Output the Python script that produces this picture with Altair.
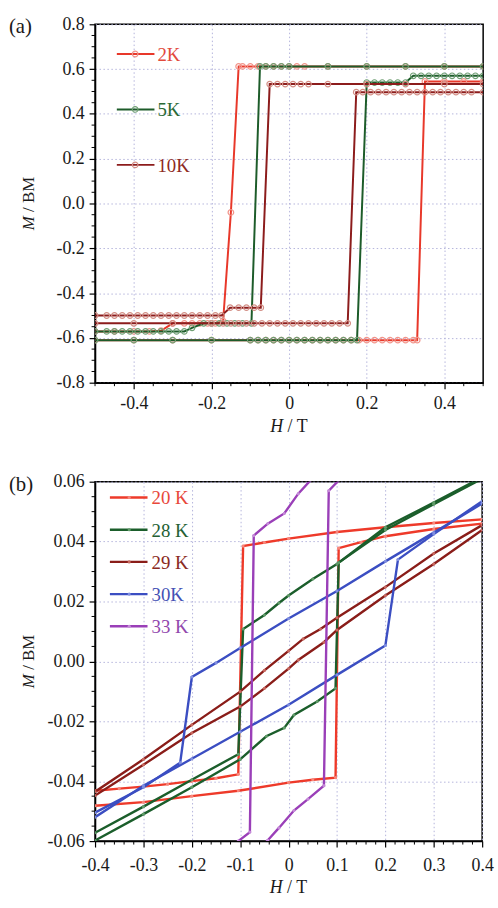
import altair as alt
import pandas as pd

FONT = "Liberation Serif"

# ---------------- panel (a) data ----------------
a_names = ["2K", "5K", "10K"]
a_line_colors = ["#e8382a", "#1d5c2a", "#8c1c1c"]
a_marker_colors = ["#f2948a", "#6f9f73", "#d38f86"]
a_text_colors = ["#e24a3c", "#2a6a35", "#8e2a22"]

H_2K_down = [0.5, 0.4, 0.3, 0.2, 0.1, 0.04, 0.02, 0.0, -0.02, -0.04, -0.06, -0.08, -0.10, -0.12, -0.13,
             -0.15, -0.17, -0.19, -0.21, -0.23, -0.25, -0.27, -0.30, -0.33, -0.36, -0.40, -0.45, -0.50]
M_2K_down = [0.612, 0.612, 0.612, 0.612, 0.612, 0.612, 0.612, 0.612, 0.612, 0.612, 0.612, 0.612, 0.612, 0.612, 0.612,
             -0.04, -0.525, -0.535, -0.535, -0.535, -0.535, -0.535, -0.535, -0.568, -0.571, -0.571, -0.571, -0.571]
H_2K_up = [-0.50, -0.40, -0.30, -0.20, -0.10, -0.08, -0.06, -0.04, -0.02, 0.0, 0.02, 0.04, 0.06, 0.08, 0.10,
           0.12, 0.14, 0.16, 0.18, 0.20, 0.22, 0.24, 0.26, 0.28, 0.30, 0.32, 0.33, 0.35, 0.40, 0.45, 0.50]
M_2K_up = [-0.61, -0.61, -0.61, -0.61, -0.61, -0.61, -0.61, -0.61, -0.61, -0.61, -0.61, -0.61, -0.61, -0.61, -0.61,
           -0.61, -0.61, -0.61, -0.61, -0.61, -0.61, -0.61, -0.61, -0.61, -0.61, -0.61, -0.61, 0.545, 0.545, 0.545, 0.545]

H_5K_down = [0.5, 0.4, 0.3, 0.2, 0.1, 0.0, -0.02, -0.04, -0.06, -0.075, -0.097, -0.12, -0.14, -0.16, -0.18,
             -0.20, -0.22, -0.25, -0.27, -0.29, -0.31, -0.33, -0.35, -0.37, -0.39, -0.41, -0.43, -0.45, -0.47, -0.50]
M_5K_down = [0.612, 0.612, 0.612, 0.612, 0.612, 0.612, 0.612, 0.612, 0.612, 0.612, -0.535, -0.535, -0.535, -0.535, -0.535,
             -0.535, -0.535, -0.555, -0.571, -0.571, -0.571, -0.571, -0.571, -0.571, -0.571, -0.571, -0.571, -0.571, -0.571, -0.571]
H_5K_up = [-0.50, -0.40, -0.30, -0.20, -0.10, -0.08, -0.06, -0.04, -0.02, 0.0, 0.02, 0.04, 0.06, 0.08, 0.10, 0.12, 0.14,
           0.16, 0.175, 0.20, 0.22, 0.24, 0.26, 0.28, 0.30, 0.32, 0.34, 0.36, 0.38, 0.40, 0.42, 0.44, 0.46, 0.48, 0.50]
M_5K_up = [-0.61, -0.61, -0.61, -0.61, -0.61, -0.61, -0.61, -0.61, -0.61, -0.61, -0.61, -0.61, -0.61, -0.61, -0.61, -0.61, -0.61,
           -0.61, -0.61, 0.54, 0.54, 0.54, 0.54, 0.54, 0.54, 0.57, 0.57, 0.57, 0.57, 0.57, 0.57, 0.57, 0.57, 0.57, 0.57]

H_10K_down = [0.5, 0.4, 0.3, 0.2, 0.1, 0.05, 0.03, 0.01, -0.01, -0.03, -0.05, -0.073, -0.09, -0.11, -0.13, -0.152,
              -0.174, -0.19, -0.21, -0.23, -0.25, -0.27, -0.29, -0.31, -0.33, -0.35, -0.37, -0.39, -0.41, -0.43, -0.45, -0.47, -0.50]
M_10K_down = [0.533, 0.533, 0.533, 0.533, 0.533, 0.533, 0.533, 0.533, 0.533, 0.533, 0.533, -0.465, -0.465, -0.465, -0.465, -0.465,
              -0.50, -0.50, -0.50, -0.50, -0.50, -0.50, -0.50, -0.50, -0.50, -0.50, -0.50, -0.50, -0.50, -0.50, -0.50, -0.50, -0.50]
H_10K_up = [-0.50, -0.40, -0.30, -0.20, -0.17, -0.15, -0.13, -0.11, -0.09, -0.07, -0.05, -0.03, -0.01, 0.01, 0.03, 0.05, 0.07,
            0.09, 0.11, 0.13, 0.151, 0.173, 0.19, 0.21, 0.23, 0.25, 0.27, 0.29, 0.31, 0.33, 0.35, 0.37, 0.39, 0.41, 0.43, 0.45, 0.47, 0.50]
M_10K_up = [-0.535, -0.535, -0.535, -0.535, -0.535, -0.535, -0.535, -0.535, -0.535, -0.535, -0.535, -0.535, -0.535, -0.535, -0.535,
            -0.535, -0.535, -0.535, -0.535, -0.535, -0.535, 0.497, 0.497, 0.497, 0.497, 0.497, 0.497, 0.497, 0.497, 0.497, 0.497,
            0.497, 0.497, 0.497, 0.497, 0.497, 0.497, 0.497]

a_xticks = [-0.4, -0.2, 0.0, 0.2, 0.4]
a_yticks = [-0.8, -0.6, -0.4, -0.2, 0.0, 0.2, 0.4, 0.6, 0.8]
a_xminor = [-0.5, -0.45, -0.35, -0.3, -0.25, -0.15, -0.1, -0.05, 0.05, 0.1, 0.15, 0.25, 0.3, 0.35, 0.45, 0.5]
a_yminor = [-0.75, -0.7, -0.65, -0.55, -0.5, -0.45, -0.35, -0.3, -0.25, -0.15, -0.1, -0.05,
            0.05, 0.1, 0.15, 0.25, 0.3, 0.35, 0.45, 0.5, 0.55, 0.65, 0.7, 0.75]

# ---------------- panel (b) data ----------------
b_names = ["20 K", "28 K", "29 K", "30K", "33 K"]
b_line_colors = ["#ee3a2a", "#1b5e2b", "#8a1d19", "#3b4ec2", "#9a3fb8"]
b_marker_colors = ["#f7877c", "#5f9a68", "#c8685f", "#7f8ee0", "#c58ad8"]
b_text_colors = ["#e8473a", "#245f33", "#8a2a22", "#4451b4", "#9147ad"]

H_20K_down = [0.4, 0.3, 0.2, 0.1, 0.0, -0.05, -0.094, -0.104, -0.15, -0.2, -0.25, -0.3, -0.35, -0.4]
M_20K_down = [0.0474, 0.0462, 0.0448, 0.0432, 0.041, 0.0397, 0.0385, -0.0377, -0.039, -0.040, -0.041, -0.0418, -0.0425, -0.0432]
H_20K_up = [-0.4, -0.3, -0.2, -0.104, 0.0, 0.05, 0.097, 0.1035, 0.15, 0.2, 0.3, 0.4]
M_20K_up = [-0.0482, -0.047, -0.045, -0.0432, -0.0405, -0.0395, -0.0388, 0.0378, 0.0398, 0.0418, 0.0442, 0.046]

H_28K_down = [0.4, 0.3, 0.2, 0.1, 0.05, 0.0, -0.02, -0.05, -0.094, -0.104, -0.2, -0.3, -0.4]
M_28K_down = [0.0615, 0.053, 0.0448, 0.0325, 0.0275, 0.022, 0.0195, 0.0155, 0.0108, -0.031, -0.0395, -0.0485, -0.0572]
H_28K_up = [-0.4, -0.3, -0.2, -0.1, -0.046, -0.009, 0.011, 0.059, 0.097, 0.1035, 0.2, 0.3, 0.4]
M_28K_up = [-0.0598, -0.051, -0.042, -0.0327, -0.025, -0.0222, -0.0179, -0.0134, -0.009, 0.033, 0.0439, 0.0525, 0.061]

H_29K_down = [0.4, 0.3, 0.2, 0.1, 0.066, 0.03, 0.0, -0.05, -0.1, -0.2, -0.3, -0.4]
M_29K_down = [0.0455, 0.036, 0.0248, 0.0146, 0.0108, 0.0075, 0.0035, -0.003, -0.0101, -0.0212, -0.0327, -0.0435]
H_29K_up = [-0.4, -0.3, -0.2, -0.1, -0.05, 0.0, 0.02, 0.073, 0.1, 0.2, 0.3, 0.4]
M_29K_up = [-0.0448, -0.0345, -0.0239, -0.0151, -0.009, -0.0024, 0.0005, 0.0064, 0.0105, 0.022, 0.0325, 0.0439]

H_30K_down = [0.4, 0.3, 0.2, 0.1, 0.0, -0.1, -0.15, -0.2, -0.224, -0.3, -0.4]
M_30K_down = [0.0527, 0.043, 0.0334, 0.0235, 0.0143, 0.0045, -0.0005, -0.0052, -0.0338, -0.042, -0.0505]
H_30K_up = [-0.4, -0.3, -0.2, -0.1, 0.0, 0.1, 0.2, 0.226, 0.3, 0.4]
M_30K_up = [-0.052, -0.0415, -0.0325, -0.0235, -0.0145, -0.0045, 0.0053, 0.034, 0.0425, 0.0535]

H_33K_down = [0.07, 0.045, 0.02, -0.009, -0.043, -0.072, -0.08, -0.104, -0.13]
M_33K_down = [0.066, 0.0604, 0.056, 0.0494, 0.046, 0.042, -0.057, -0.06, -0.064]
H_33K_up = [-0.07, -0.043, -0.02, 0.011, 0.04, 0.073, 0.083, 0.1035, 0.12]
M_33K_up = [-0.064, -0.0597, -0.0556, -0.0498, -0.046, -0.0415, 0.057, 0.0604, 0.064]

b_xticks = [-0.4, -0.3, -0.2, -0.1, 0.0, 0.1, 0.2, 0.3, 0.4]
b_yticks = [-0.06, -0.04, -0.02, 0.0, 0.02, 0.04, 0.06]
b_xminor = [-0.38, -0.36, -0.34, -0.32, -0.28, -0.26, -0.24, -0.22, -0.18, -0.16, -0.14, -0.12,
            -0.08, -0.06, -0.04, -0.02, 0.02, 0.04, 0.06, 0.08, 0.12, 0.14, 0.16, 0.18,
            0.22, 0.24, 0.26, 0.28, 0.32, 0.34, 0.36, 0.38]
b_yminor = [-0.055, -0.05, -0.045, -0.035, -0.03, -0.025, -0.015, -0.01, -0.005,
            0.005, 0.01, 0.015, 0.025, 0.03, 0.035, 0.045, 0.05, 0.055]

panel_labels = ["(a)", "(b)"]
y_title = ["M", "/ BM"]
x_title = ["H", "/ T"]


def build(branches):
    rows = []
    for series, branch, hs, ms in branches:
        assert len(hs) == len(ms), (series, branch)
        for i, (h, m) in enumerate(zip(hs, ms)):
            rows.append({"series": series, "path": series + branch, "H": h, "M": m, "i": i})
    return pd.DataFrame(rows)


df_a = build([
    ("2K", "d", H_2K_down, M_2K_down), ("2K", "u", H_2K_up, M_2K_up),
    ("5K", "d", H_5K_down, M_5K_down), ("5K", "u", H_5K_up, M_5K_up),
    ("10K", "d", H_10K_down, M_10K_down), ("10K", "u", H_10K_up, M_10K_up),
])
df_b = build([
    ("20 K", "d", H_20K_down, M_20K_down), ("20 K", "u", H_20K_up, M_20K_up),
    ("28 K", "d", H_28K_down, M_28K_down), ("28 K", "u", H_28K_up, M_28K_up),
    ("29 K", "d", H_29K_down, M_29K_down), ("29 K", "u", H_29K_up, M_29K_up),
    ("30K", "d", H_30K_down, M_30K_down), ("30K", "u", H_30K_up, M_30K_up),
    ("33 K", "d", H_33K_down, M_33K_down), ("33 K", "u", H_33K_up, M_33K_up),
])

MINUS = "\u2212"


def make_axis(ticks, fmt, zero_plain, pad):
    base = "replace(datum.label, '%s', '-')" % MINUS
    expr = ("datum.value == 0 ? '0' : " + base) if zero_plain else base
    return alt.Axis(values=ticks, format=fmt, labelExpr=expr, title=None,
                    labelFont=FONT, labelFontSize=18, labelColor="#1a1a1a",
                    labelFlush=False, labelOverlap=False, labelBound=False,
                    tickSize=6, tickColor="black", tickWidth=1.2,
                    domainColor="black", domainWidth=1.5, labelPadding=pad,
                    grid=True, gridColor="#b4b4dc", gridDash=[1.5, 2.5], gridWidth=1)


def panel(df, names, line_colors, marker_colors, text_colors, xdom, ydom, xticks, yticks,
          xminor, yminor, xfmt, yfmt, W, Hh, leg, label, lw, psize, filled, xpad, xtitle_dy):
    xsc = alt.Scale(domain=xdom, nice=False, zero=False)
    ysc = alt.Scale(domain=ydom, nice=False, zero=False)
    xax = make_axis(xticks, xfmt, True, xpad)
    yax = make_axis(yticks, yfmt, False, 5)
    X = lambda f: alt.X(f, scale=xsc, axis=xax)
    Y = lambda f: alt.Y(f, scale=ysc, axis=yax)
    layers = []
    for name, lc, mc in zip(names, line_colors, marker_colors):
        base = alt.Chart(df).transform_filter(alt.datum.series == name)
        line = base.mark_line(color=lc, strokeWidth=lw, clip=True).encode(
            x=X("H:Q"), y=Y("M:Q"), detail="path:N", order="i:Q")
        pts = base.mark_point(shape="circle", filled=filled, color=mc, size=psize, strokeWidth=1.2,
                              opacity=1, clip=True).encode(x=X("H:Q"), y=Y("M:Q"))
        layers += [line, pts]
    # minor ticks
    layers.append(alt.Chart(pd.DataFrame({"v": yminor})).mark_rule(color="black", strokeWidth=1).encode(
        y=Y("v:Q"), x=alt.value(0), x2=alt.value(-3.5)))
    layers.append(alt.Chart(pd.DataFrame({"v": xminor})).mark_rule(color="black", strokeWidth=1).encode(
        x=X("v:Q"), y=alt.value(Hh), y2=alt.value(Hh + 3.5)))
    # legend
    lx0, lx1, lxm, ltx, ly0, ldy, lfs = leg
    for k, (name, lc, mc, tc) in enumerate(zip(names, line_colors, marker_colors, text_colors)):
        ly = ly0 + k * ldy
        ldf = pd.DataFrame({"label": [name]})
        layers.append(alt.Chart(ldf).mark_rule(color=lc, strokeWidth=lw).encode(
            x=alt.value(lx0), x2=alt.value(lx1), y=alt.value(ly)))
        layers.append(alt.Chart(ldf).mark_point(shape="circle", filled=filled, color=mc, size=psize,
                                                strokeWidth=1.2, opacity=1).encode(
            x=alt.value(lxm), y=alt.value(ly)))
        layers.append(alt.Chart(ldf).mark_text(font=FONT, fontSize=lfs, color=tc, align="left",
                                               baseline="middle").encode(
            x=alt.value(ltx), y=alt.value(ly + 1), text="label:N"))
    # panel label
    layers.append(alt.Chart(pd.DataFrame({"t": [label]})).mark_text(
        font=FONT, fontSize=21, color="#1a1a1a", align="left", baseline="middle").encode(
        x=alt.value(-87), y=alt.value(3), text="t:N"))
    # axis titles with italic symbol
    yfs = 17
    ym = Hh / 2 + 27
    layers.append(alt.Chart(pd.DataFrame({"t": [y_title[0]]})).mark_text(
        font=FONT, fontSize=yfs, fontStyle="italic", color="#1a1a1a", align="left", baseline="middle",
        angle=270).encode(x=alt.value(-67), y=alt.value(ym), text="t:N"))
    layers.append(alt.Chart(pd.DataFrame({"t": [y_title[1]]})).mark_text(
        font=FONT, fontSize=yfs, color="#1a1a1a", align="left", baseline="middle",
        angle=270).encode(x=alt.value(-67), y=alt.value(ym - 18.5), text="t:N"))
    xfs = 18
    xh = W / 2 - 19
    layers.append(alt.Chart(pd.DataFrame({"t": [x_title[0]]})).mark_text(
        font=FONT, fontSize=xfs, fontStyle="italic", color="#1a1a1a", align="left",
        baseline="middle").encode(x=alt.value(xh), y=alt.value(Hh + xtitle_dy), text="t:N"))
    layers.append(alt.Chart(pd.DataFrame({"t": [x_title[1]]})).mark_text(
        font=FONT, fontSize=xfs, color="#1a1a1a", align="left",
        baseline="middle").encode(x=alt.value(xh + 17.5), y=alt.value(Hh + xtitle_dy), text="t:N"))
    return alt.layer(*layers).properties(width=W, height=Hh)


pa = panel(df_a, a_names, a_line_colors, a_marker_colors, a_text_colors, [-0.5, 0.5], [-0.8, 0.8],
           a_xticks, a_yticks, a_xminor, a_yminor, ".1f", ".1f", 392, 362,
           (22, 60, 40.5, 63, 30, 56, 19), panel_labels[0], 2, 32, False, 6, 45)
pb = panel(df_b, b_names, b_line_colors, b_marker_colors, b_text_colors, [-0.4, 0.4], [-0.06, 0.06],
           b_xticks, b_yticks, b_xminor, b_yminor, ".1f", ".2f", 391, 363,
           (15, 53, 34.5, 57, 16, 32.5, 19), panel_labels[1], 2.4, 10, True, 10, 47)

chart = alt.vconcat(pa, pb, spacing=35).properties(
    padding={"left": 8, "top": 10, "right": 4, "bottom": 2}, background="white"
).configure_view(stroke="black", strokeWidth=1.5)

chart.save("out.html", embed_options={"renderer": "svg", "actions": False})
